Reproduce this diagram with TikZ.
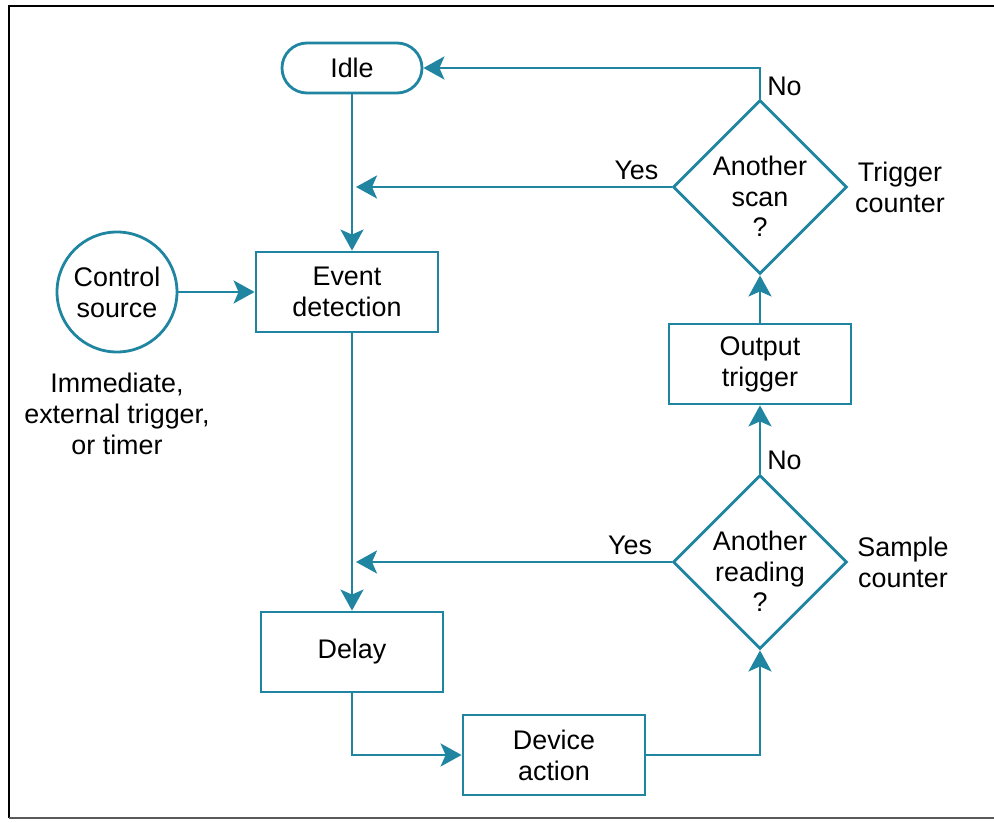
\documentclass[tikz,border=0pt]{standalone}
\usepackage{fontspec}
\setmainfont{Liberation Sans}
\usetikzlibrary{arrows.meta,shapes.geometric,positioning}
\definecolor{flowblue}{RGB}{31,133,161}

\begin{document}
\begin{tikzpicture}[>={Stealth[length=0.42cm,width=0.46cm,inset=0.1cm]},
                    node distance=2cm, on grid, auto,
                    every node/.style={font=\fontsize{15.3}{17.6}\selectfont},
                    process/.style={draw=flowblue, line width=1.6pt, align=center,
                                    minimum width=3.64cm, minimum height=1.6cm},
                    terminal/.style={draw=flowblue, line width=1.6pt, rounded corners=0.5cm,
                                     minimum width=2.8cm, minimum height=1cm},
                    source/.style={circle, draw=flowblue, line width=1.6pt, align=center,
                                   inner sep=0pt, minimum size=2.4cm},
                    decision/.style={diamond, draw=flowblue, line width=1.6pt, align=center,
                                     text height=2cm, inner sep=-0.15cm,
                                     minimum width=3.48cm, minimum height=3.48cm},
                    note/.style={align=center},
                    flow/.style={->, draw=flowblue, line width=1.6pt}]
\useasboundingbox (-7.04,1.36) rectangle (12.84,-15.1);
% frame
\draw[line width=1.6pt] (12.84,1.24) -| (-6.86,-15.0);
\draw[gray!70!black, line width=1pt] (-6.86,-15.0) -- (12.84,-15.0);

% blocks of the flow
\node[terminal] (idle)                                        {Idle};
\node[process]  (event)       [below=4.48cm of idle, xshift=-0.1cm] {Event\\detection};
\node[source]   (control)     [left=4.6cm of event]           {Control\\source};
\node[note]     (ctrlnote)    [below=2.44cm of control]       {Immediate,\\external trigger,\\or timer};
\node[process]  (delay)       [below=4.48cm of idle, yshift=-7.2cm] {Delay};
\node[process]  (device)      [below right=2.06cm and 4.04cm of delay] {Device\\action};
\node[decision] (scan)        [below right=2.38cm and 8.16cm of idle]  {Another\\scan\\?};
\node[note]     (trigcount)   [right=2.8cm of scan]           {Trigger\\counter};
\node[process]  (output)      [below=3.54cm of scan]          {Output\\trigger};
\node[decision] (reading)     [below=3.96cm of output]        {Another\\reading\\?};
\node[note]     (samplecount) [right=2.86cm of reading]       {Sample\\counter};

\coordinate (scanjoin) at (idle.south |- scan.west);
\coordinate (readjoin) at (idle.south |- reading.west);

% connections
\draw[flow] (idle) -- (idle |- event.north);
\draw[flow] (control) -- (event);
\draw[flow] (idle |- event.south) -- (delay);
\draw[flow] (delay) |- (device);
\draw[flow] (device) -| (reading);
\draw[flow] (reading) -- node[pos=0.2, right] {No} (output);
\draw[flow] (output) -- (scan);
\draw[flow] (scan) |- node[pos=0.2, right] {No} (idle);
\draw[flow, shorten >=0.08cm] (scan) -- node[pos=0.11, above] {Yes} (scanjoin);
\draw[flow, shorten >=0.08cm] (reading) -- node[pos=0.13, above] {Yes} (readjoin);

\end{tikzpicture}
\end{document}
